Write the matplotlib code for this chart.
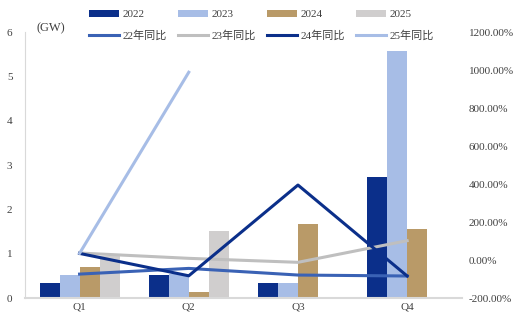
import numpy as np
import matplotlib.pyplot as plt
from matplotlib.ticker import FuncFormatter

plt.rcParams['font.family'] = ['Liberation Serif', 'Noto Sans CJK SC']
plt.rcParams['font.size'] = 8

# data
quarters = ['Q1', 'Q2', 'Q3', 'Q4']
years = ['2022', '2023', '2024', '2025']
cap_2022 = [0.35, 0.52, 0.35, 2.73]
cap_2023 = [0.52, 0.55, 0.35, 5.58]
cap_2024 = [0.69, 0.14, 1.66, 1.55]
cap_2025 = [0.95, 1.51, np.nan, np.nan]

yoy_labels = ['22年同比', '23年同比', '24年同比', '25年同比']
yoy_22 = [-74, -44, -79, -84]
yoy_23 = [37, 9, -12, 102]
yoy_24 = [35, -83, 395, -84]
yoy_25 = [35, 989, np.nan, np.nan]

bar_colors = ['#0B2F8A', '#A7BDE6', '#B99A68', '#D0CECE']
line_colors = ['#3A62B5', '#BFBFBF', '#0B2F8A', '#A7BDE6']

fig = plt.figure(figsize=(5.2, 3.25), dpi=100)
ax = fig.add_axes([0.048, 0.083, 0.840, 0.818])
ax2 = ax.twinx()

x = np.arange(len(quarters))
w = 0.183
bars = []
for i, (vals, c) in enumerate(zip([cap_2022, cap_2023, cap_2024, cap_2025], bar_colors)):
    b = ax.bar(x + (i - 1.5) * w, vals, width=w, color=c, label=years[i])
    bars.append(b)

lines = []
for vals, c, lab in zip([yoy_22, yoy_23, yoy_24, yoy_25], line_colors, yoy_labels):
    ln, = ax2.plot(x, vals, color=c, lw=2.2, label=lab)
    lines.append(ln)

ax.set_xlim(-0.5, 3.5)
ax.set_ylim(0, 6)
ax2.set_ylim(-200, 1200)
ax2.set_yticks(np.arange(-200, 1201, 200))
ax2.yaxis.set_major_formatter(FuncFormatter(lambda v, p: f'{v:.2f}%'))

ax.set_xticks(x)
ax.set_xticklabels(quarters)
ax.tick_params(length=0, colors='#404040', labelsize=8)
ax2.tick_params(length=0, colors='#404040', labelsize=8, pad=5)
ax.tick_params(axis='y', pad=9)

for a in (ax, ax2):
    for s in ['top', 'right']:
        a.spines[s].set_visible(False)
ax2.spines['left'].set_visible(False)
ax2.spines['bottom'].set_visible(False)
ax.spines['left'].set_color('#D9D9D9')
ax.spines['bottom'].set_color('#D9D9D9')
ax.spines['bottom'].set_linewidth(1.5)

ax.text(0.027, 1.015, '(GW)', transform=ax.transAxes, fontsize=9,
        color='#404040', va='center', ha='left')

handles = []
labels = []
for b, ln, y, l in zip(bars, lines, years, yoy_labels):
    handles += [b, ln]
    labels += [y, l]
fig.legend(handles, labels, ncol=4, loc='center', bbox_to_anchor=(0.503, 0.922),
           frameon=False, fontsize=8, handlelength=2.7, handleheight=0.6,
           columnspacing=1.0, labelspacing=1.0, handletextpad=0.3,
           labelcolor='#404040')

fig.savefig('out.png', dpi=100)
